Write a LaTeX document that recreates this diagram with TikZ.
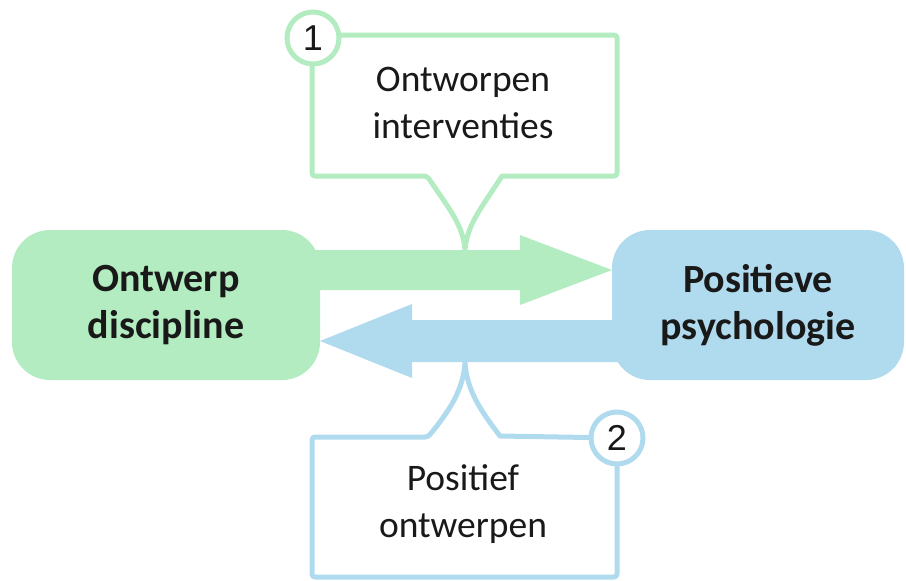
\documentclass[tikz,border=0pt]{standalone}
\usepackage{fontspec}
\setmainfont{Carlito}
\newfontfamily\numfont{Liberation Sans}
\definecolor{lgreen}{RGB}{178,236,192}
\definecolor{lblue}{RGB}{176,218,238}
\definecolor{txt}{RGB}{25,25,25}
\begin{document}
\begin{tikzpicture}[x=1pt,y=-1pt,
  mainbox/.style={rounded corners=38pt, minimum height=150pt, inner sep=0pt, align=center, font=\fontsize{40}{47}\selectfont\bfseries, text=txt},
  calltext/.style={align=center, font=\fontsize{37.5}{47}\selectfont, text=txt, inner sep=0pt},
  callline/.style={line width=5pt, rounded corners=3pt, line join=round},
  numcirc/.style={circle, draw, fill=white, line width=5pt, minimum size=52pt, inner sep=0pt, font=\fontsize{36}{36}\selectfont\numfont, text=txt}
]
\useasboundingbox (0,0) rectangle (906,581);
% arrows
\fill[lgreen] (150,250) -- (520,250) -- (520,235) -- (612,270) -- (520,305) -- (520,290) -- (150,290) -- cycle;
\fill[lblue] (760,320) -- (412,320) -- (412,304) -- (320,341) -- (412,378) -- (412,362) -- (760,362) -- cycle;
% boxes
\node[mainbox, fill=lgreen, minimum width=308pt] (ontwerp) at (166,305) {Ontwerp\\discipline};
\node[mainbox, fill=lblue, minimum width=292pt] (psych) at (758,305) {Positieve\\psychologie};
% callout 1
\draw[callline, lgreen] (312,38) -- (312,176) -- (427,176) [sharp corners] .. controls (450,210) and (463,225) .. (465,250) .. controls (467,225) and (480,210) .. (502,176) [rounded corners=3pt] -- (617,176) -- (617,35) -- (312,35);
\node[numcirc, draw=lgreen] (n1) at (313,38) {1};
\node[calltext] (t1) at (463,103) {Ontworpen\\interventies};
% callout 2
\draw[callline, lblue] (617,438) -- (617,577) -- (312,577) -- (312,437) -- (428,437) [sharp corners] .. controls (450,410) and (463,390) .. (465,363) .. controls (467,390) and (480,410) .. (500,436) [rounded corners=3pt] -- (617,438);
\node[numcirc, draw=lblue] (n2) at (617,438) {2};
\node[calltext] (t2) at (463,504) {Positief\\ontwerpen};
\end{tikzpicture}
\end{document}
